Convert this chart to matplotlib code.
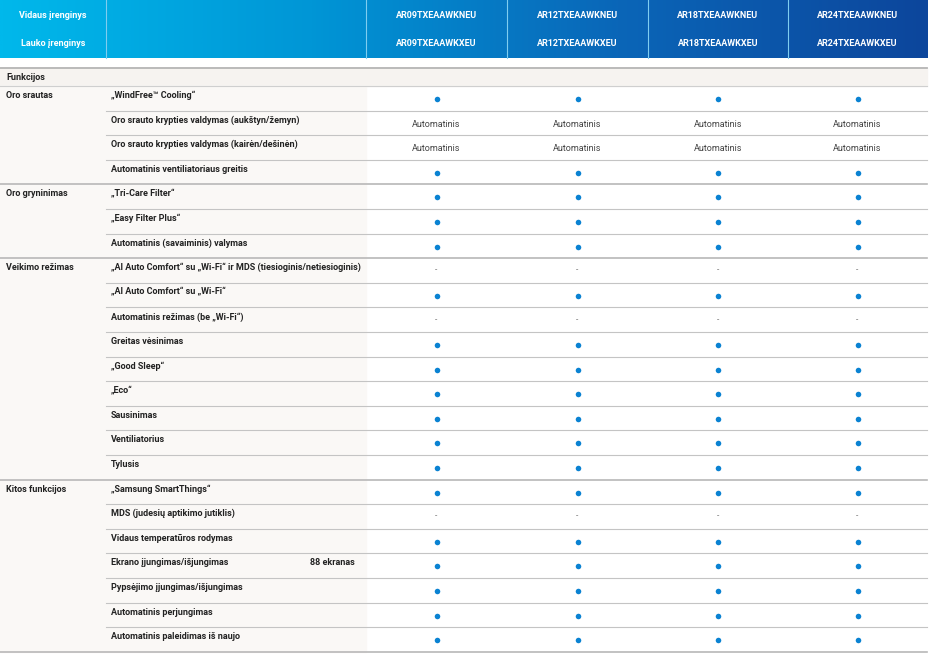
import numpy as np
import matplotlib.pyplot as plt
from matplotlib.colors import LinearSegmentedColormap

plt.rcParams['font.family'] = ['Liberation Sans Narrow', 'Roboto', 'DejaVu Sans']

# duomenys
indoor = ["AR09TXEAAWKNEU", "AR12TXEAAWKNEU", "AR18TXEAAWKNEU", "AR24TXEAAWKNEU"]
outdoor = ["AR09TXEAAWKXEU", "AR12TXEAAWKXEU", "AR18TXEAAWKXEU", "AR24TXEAAWKXEU"]
groups = ["Oro srautas", "Oro gryninimas", "Veikimo režimas", "Kitos funkcijos"]
group_sizes = [4, 3, 9, 7]
features = [
    "„WindFree™ Cooling“",
    "Oro srauto krypties valdymas (aukštyn/žemyn)",
    "Oro srauto krypties valdymas (kairėn/dešinėn)",
    "Automatinis ventiliatoriaus greitis",
    "„Tri-Care Filter“",
    "„Easy Filter Plus“",
    "Automatinis (savaiminis) valymas",
    "„AI Auto Comfort“ su „Wi-Fi“ ir MDS (tiesioginis/netiesioginis)",
    "„AI Auto Comfort“ su „Wi-Fi“",
    "Automatinis režimas (be „Wi-Fi“)",
    "Greitas vėsinimas",
    "„Good Sleep“",
    "„Eco“",
    "Sausinimas",
    "Ventiliatorius",
    "Tylusis",
    "„Samsung SmartThings“",
    "MDS (judesių aptikimo jutiklis)",
    "Vidaus temperatūros rodymas",
    "Ekrano įjungimas/išjungimas",
    "Pypsėjimo įjungimas/išjungimas",
    "Automatinis perjungimas",
    "Automatinis paleidimas iš naujo",
]
notes = {"Ekrano įjungimas/išjungimas": "88 ekranas"}
# vienoda visiems keturiems modeliams
values = ["dot", "Automatinis", "Automatinis", "dot",
          "dot", "dot", "dot",
          "-", "dot", "-", "dot", "dot", "dot", "dot", "dot", "dot",
          "dot", "-", "dot", "dot", "dot", "dot", "dot"]

# išdėstymas (pikseliais)
W, H = 930, 662
col_x = [0, 106, 366, 507, 648, 788, 927]
head_h = 58
func_top, func_bot = 68, 86
row_h = 24.6

fig = plt.figure(figsize=(W / 100, H / 100), dpi=100)
ax = fig.add_axes([0, 0, 1, 1])
ax.set_xlim(0, W)
ax.set_ylim(H, 0)
ax.axis('off')

# antraštė su gradientu
cmap = LinearSegmentedColormap.from_list("hdr", ["#00b8eb", "#0096d6", "#0a66b8", "#0d469c"])
grad = np.linspace(0, 1, 400).reshape(1, -1)
ax.imshow(grad, cmap=cmap, aspect='auto', extent=[0, col_x[-1], head_h, 0], zorder=0)
for x in col_x[1:-1]:
    ax.plot([x, x], [0, head_h], color="#7fcdf0", lw=0.8, zorder=1)
ax.text(col_x[1] / 2, 16, "Vidaus įrenginys", color="white", fontsize=6.5,
        fontweight='bold', ha='center', va='center')
ax.text(col_x[1] / 2, 44, "Lauko įrenginys", color="white", fontsize=6.5,
        fontweight='bold', ha='center', va='center')
centers = [(col_x[i] + col_x[i + 1]) / 2 for i in range(2, 6)]
for cx, a, b in zip(centers, indoor, outdoor):
    ax.text(cx, 16, a, color="white", fontsize=6.5, fontweight='bold', ha='center', va='center')
    ax.text(cx, 44, b, color="white", fontsize=6.5, fontweight='bold', ha='center', va='center')

# "Funkcijos" eilutė
ax.add_patch(plt.Rectangle((0, func_top), col_x[-1], func_bot - func_top,
                           color="#f6f3f0", zorder=0))
ax.plot([0, col_x[-1]], [func_top, func_top], color="#b5b5b5", lw=1.3)
ax.plot([0, col_x[-1]], [func_bot, func_bot], color="#cfcfcf", lw=0.8)
ax.text(6, (func_top + func_bot) / 2, "Funkcijos", fontsize=6.5, fontweight='bold',
        color="#222222", ha='left', va='center')

n = len(features)
body_bot = func_bot + n * row_h
ax.add_patch(plt.Rectangle((0, func_bot), col_x[2], body_bot - func_bot,
                           color="#faf8f6", zorder=0))

starts = np.cumsum([0] + group_sizes[:-1])
group_start = set(starts)
for i, (feat, val) in enumerate(zip(features, values)):
    top = func_bot + i * row_h
    bot = top + row_h
    if i + 1 in group_start or i == n - 1:
        ax.plot([0, col_x[-1]], [bot, bot], color="#b8b8b8", lw=1.2)
    else:
        ax.plot([col_x[1], col_x[-1]], [bot, bot], color="#c4c4c4", lw=0.8)
    ax.text(col_x[1] + 5, top + 9.5, feat, fontsize=6.5, fontweight='bold',
            color="#222222", ha='left', va='center')
    if feat in notes:
        ax.text(310, top + 9.5, notes[feat], fontsize=6.5, fontweight='bold',
                color="#222222", ha='left', va='center')
    for cx in centers:
        if val == "dot":
            ax.scatter([cx], [top + 13], s=16, color="#0a82d2", zorder=3, linewidths=0)
        elif val == "-":
            ax.text(cx, top + 12.5, "-", fontsize=6, color="#555555", ha='center', va='center')
        else:
            ax.text(cx, top + 13.5, val, fontsize=6.5, color="#444444", ha='center', va='center')

for g, s in zip(groups, starts):
    ax.text(6, func_bot + s * row_h + 9.5, g, fontsize=6.5, fontweight='bold',
            color="#222222", ha='left', va='center')

fig.savefig("out.png", dpi=100)
